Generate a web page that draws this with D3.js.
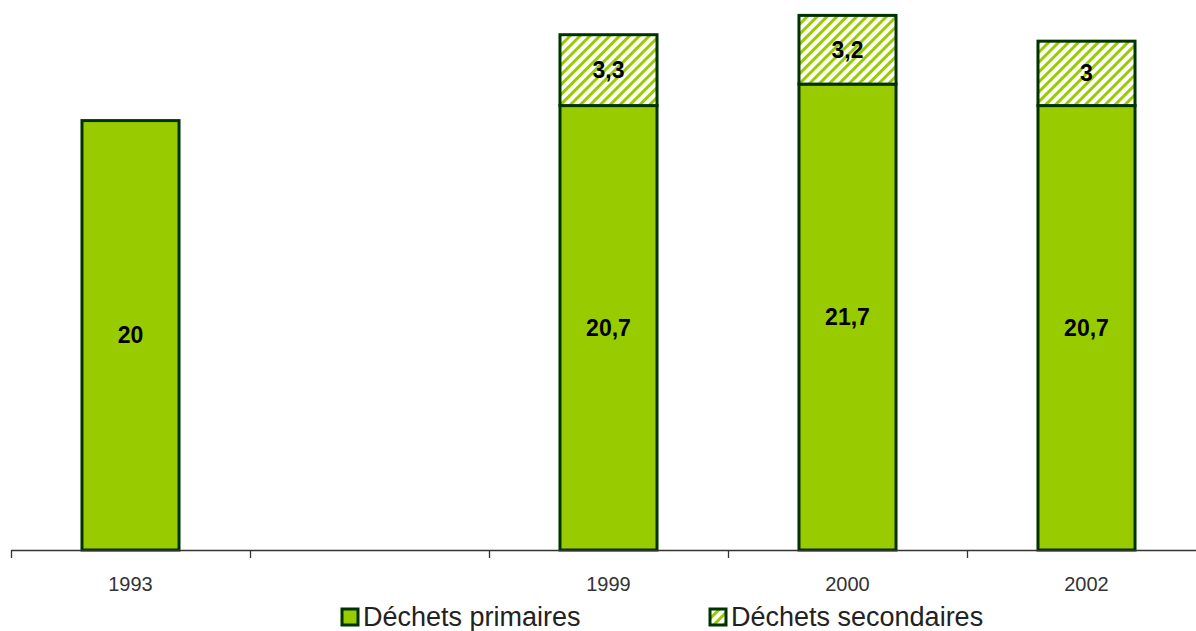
<!DOCTYPE html>
<html><head><meta charset="utf-8">
<script src="https://cdn.jsdelivr.net/npm/d3@7"></script>
<style>body{margin:0;background:#fff}svg{display:block}</style>
</head><body>
<svg id="c" width="1196" height="631"></svg>
<script>
const categories = ["1993", " ", "1999", "2000", "2002"];
const primaires = [20, null, 20.7, 21.7, 20.7];
const secondaires = [null, null, 3.3, 3.2, 3];
const primLabels = ["20", "", "20,7", "21,7", "20,7"];
const secLabels = ["", "", "3,3", "3,2", "3"];
const seriesNames = ["Déchets primaires", "Déchets secondaires"];

const svg = d3.select("#c");
const fill = "#99cc00", stroke = "#003300";
const font = "Liberation Sans, Arial, sans-serif";
const defs = svg.append("defs");
const pat = defs.append("pattern").attr("id","hatch").attr("patternUnits","userSpaceOnUse")
  .attr("width",7).attr("height",7).attr("patternTransform","rotate(45)");
pat.append("rect").attr("width",7).attr("height",7).attr("fill","#fff");
pat.append("rect").attr("x",0).attr("y",0).attr("width",3).attr("height",7).attr("fill",fill);

const x = d3.scaleBand().domain(categories).range([11, 11 + 5*239]).paddingInner(0.594).paddingOuter(0.297);
const y = d3.scaleLinear().domain([0, 25]).range([550, 13.25]);

const data = categories.map((c,i)=>({c, p:primaires[i], s:secondaires[i], pl:primLabels[i], sl:secLabels[i]}));

svg.selectAll(".p").data(data.filter(d=>d.p!=null)).join("rect")
  .attr("x", d=>x(d.c)).attr("width", x.bandwidth())
  .attr("y", d=>y(d.p)).attr("height", d=>y(0)-y(d.p))
  .attr("fill", fill).attr("stroke", stroke).attr("stroke-width", 3);
svg.selectAll(".s").data(data.filter(d=>d.s!=null)).join("rect")
  .attr("x", d=>x(d.c)).attr("width", x.bandwidth())
  .attr("y", d=>y(d.p+d.s)).attr("height", d=>y(d.p)-y(d.p+d.s))
  .attr("fill", "url(#hatch)").attr("stroke", stroke).attr("stroke-width", 3);

svg.selectAll(".pl").data(data.filter(d=>d.p!=null)).join("text")
  .attr("x", d=>x(d.c)+x.bandwidth()/2).attr("y", d=>(y(d.p)+y(0))/2)
  .attr("text-anchor","middle").attr("dominant-baseline","central")
  .attr("font-family",font).attr("font-weight","bold").attr("font-size",23)
  .attr("fill","#000").text(d=>d.pl);
svg.selectAll(".sl").data(data.filter(d=>d.s!=null)).join("text")
  .attr("x", d=>x(d.c)+x.bandwidth()/2).attr("y", d=>(y(d.p)+y(d.p+d.s))/2)
  .attr("text-anchor","middle").attr("dominant-baseline","central")
  .attr("font-family",font).attr("font-weight","bold").attr("font-size",23)
  .attr("fill","#000").text(d=>d.sl);

const ax = svg.append("g");
ax.append("line").attr("x1",11).attr("x2",1196).attr("y1",550.5).attr("y2",550.5).attr("stroke","#333").attr("stroke-width",1.3);
categories.forEach(c=>{
  const bx = Math.round(x(c) - x.step()*x.paddingOuter()) + 0.5;
  ax.append("line").attr("x1",bx).attr("x2",bx).attr("y1",550).attr("y2",558).attr("stroke","#333").attr("stroke-width",1.3);
});
ax.selectAll(".tl").data(categories).join("text")
  .attr("x", d=>x(d)+x.bandwidth()/2).attr("y", 591)
  .attr("text-anchor","middle").attr("font-family",font).attr("font-size",20)
  .attr("fill","#333").text(d=>d.trim());

const leg = svg.append("g");
const lx = [342, 710];
seriesNames.forEach((n,i)=>{
  leg.append("rect").attr("x",lx[i]).attr("y",609).attr("width",16).attr("height",16)
    .attr("fill", i===0?fill:"url(#hatch)").attr("stroke",stroke).attr("stroke-width",3);
  leg.append("text").attr("x",lx[i]+21).attr("y",626).attr("font-family",font)
    .attr("font-size",27).attr("fill","#222").text(n);
});
</script>
</body></html>
